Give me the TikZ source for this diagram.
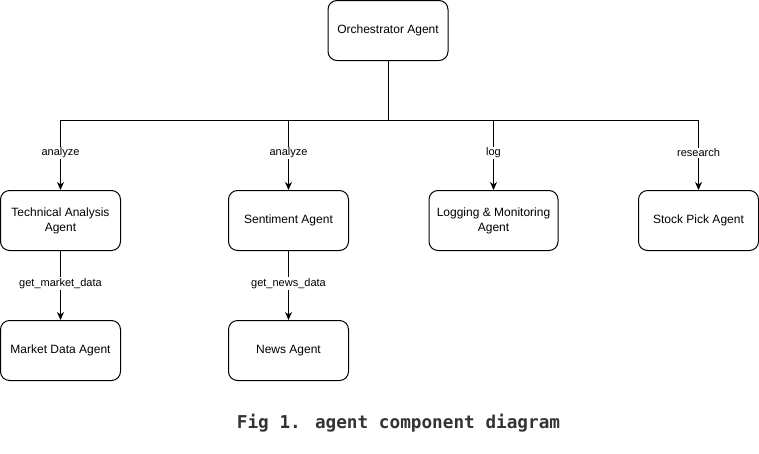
\documentclass[tikz,border=0pt]{standalone}
\usepackage{fontspec}
\setmainfont{Liberation Sans}
\newfontfamily\capfont{DejaVu Sans Mono}
\usetikzlibrary{arrows.meta}
\begin{document}
\begin{tikzpicture}[x=1pt,y=-1pt,
  agent/.style={draw=black,line width=1pt,rounded corners=9pt,minimum width=120pt,minimum height=60pt,align=center,font=\fontsize{12}{14}\selectfont,inner sep=0pt},
  conn/.style={draw=black,line width=1pt,-{Stealth[length=8pt,width=7pt,inset=2.5pt]}},
  lbl/.style={fill=white,inner sep=1pt,font=\fontsize{11}{13}\selectfont}]
\useasboundingbox (0,0) rectangle (759,453);
\node[agent] (orch) at (388,30.5) {Orchestrator Agent};
\node[agent] (ta) at (60.5,220.5) {Technical Analysis\\[1pt]Agent};
\node[agent] (sent) at (288.5,220.5) {Sentiment Agent};
\node[agent,minimum width=129pt] (log) at (493.5,220.5) {Logging \& Monitoring\\[1pt]Agent};
\node[agent] (stock) at (698.5,220.5) {Stock Pick Agent};
\node[agent] (market) at (60.5,350.5) {Market Data Agent};
\node[agent] (news) at (288.5,350.5) {News Agent};
\coordinate (bus) at (388,120);
\draw[conn] (orch.south) |- (bus) -| (ta.north) node[lbl,pos=0.735] {analyze};
\draw[conn] (orch.south) |- (bus) -| (sent.north) node[lbl,pos=0.735] {analyze};
\draw[conn] (orch.south) |- (bus) -| (log.north) node[lbl,pos=0.735] {log};
\draw[conn] (orch.south) |- (bus) -| (stock.north) node[lbl,pos=0.735] {research};
\draw[conn] (ta.south) -- (market.north) node[lbl,pos=0.47] {get\_market\_data};
\draw[conn] (sent.south) -- (news.north) node[lbl,pos=0.47] {get\_news\_data};
\node[font=\capfont\bfseries\fontsize{17.7}{20}\selectfont,text=black!80] (cap) at (398.5,423.5) {Fig 1. agent component diagram};
\end{tikzpicture}
\end{document}
